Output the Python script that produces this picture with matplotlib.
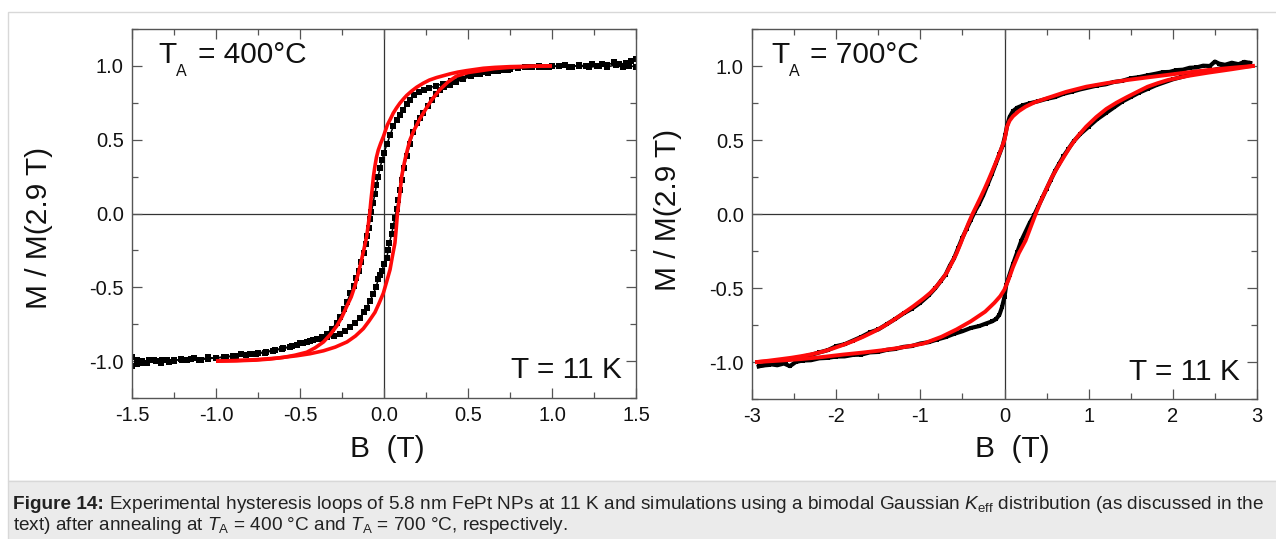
import matplotlib
matplotlib.use("Agg")
import matplotlib.pyplot as plt
from matplotlib import font_manager
from matplotlib.patches import Rectangle
from matplotlib.ticker import MultipleLocator, FormatStrFormatter

# ---------------- data ----------------
# T_A = 400 C : experimental data
exp400_down_B = [1.50, 1.47, 1.44, 1.40, 1.37, 1.33, 1.30, 1.27, 1.24, 1.20, 1.16, 1.12, 1.08, 1.04, 1.00,
                 0.96, 0.92, 0.88, 0.84, 0.80, 0.75, 0.70, 0.65, 0.60, 0.55, 0.50, 0.45, 0.40, 0.35, 0.31,
                 0.27, 0.24, 0.21, 0.18, 0.155, 0.135, 0.115, 0.095, 0.075, 0.055, 0.036, 0.018, 0.0, -0.012,
                 -0.024, -0.035, -0.045, -0.055, -0.065, -0.075, -0.083, -0.092, -0.10, -0.11, -0.122, -0.135,
                 -0.15, -0.165, -0.18, -0.20, -0.22, -0.24, -0.26, -0.28, -0.31, -0.34, -0.37, -0.40, -0.44,
                 -0.48, -0.52, -0.56, -0.61, -0.66, -0.71, -0.76, -0.82, -0.88, -0.94, -1.00, -1.05, -1.10,
                 -1.15, -1.20, -1.25, -1.28, -1.32, -1.36, -1.40, -1.44, -1.47, -1.50]
exp400_down_M = [1.045, 1.03, 1.02, 1.01, 1.025, 1.005, 1.012, 1.0, 1.015, 1.0, 1.006, 0.995, 1.005, 0.998, 1.0,
                 0.993, 1.0, 0.99, 0.994, 0.985, 0.98, 0.975, 0.968, 0.958, 0.948, 0.935, 0.918, 0.90, 0.878, 0.865,
                 0.852, 0.84, 0.825, 0.80, 0.77, 0.74, 0.70, 0.665, 0.635, 0.59, 0.53, 0.47, 0.41, 0.36,
                 0.31, 0.25, 0.19, 0.13, 0.07, 0.01, -0.04, -0.10, -0.15, -0.21, -0.27, -0.33,
                 -0.39, -0.44, -0.49, -0.54, -0.60, -0.65, -0.70, -0.74, -0.78, -0.815, -0.835, -0.85, -0.865,
                 -0.88, -0.893, -0.905, -0.918, -0.93, -0.943, -0.95, -0.958, -0.963, -0.973, -0.978, -0.985, -0.99,
                 -0.983, -0.995, -0.99, -1.005, -0.99, -1.0, -0.995, -1.012, -0.99, -0.975]
exp400_up_B = [-1.50, -1.47, -1.44, -1.41, -1.37, -1.33, -1.29, -1.25, -1.21, -1.17, -1.13, -1.09, -1.05, -1.00,
               -0.95, -0.90, -0.85, -0.80, -0.75, -0.70, -0.65, -0.60, -0.55, -0.50, -0.46, -0.42, -0.38, -0.34,
               -0.30, -0.26, -0.23, -0.20, -0.17, -0.143, -0.12, -0.103, -0.083, -0.064, -0.048, -0.034, -0.024,
               -0.014, 0.0, 0.016, 0.025, 0.032, 0.045, 0.055, 0.065, 0.075, 0.085, 0.095, 0.105, 0.12, 0.135,
               0.155, 0.175, 0.195, 0.215, 0.234, 0.26, 0.284, 0.31, 0.333, 0.36, 0.39, 0.43, 0.47, 0.52, 0.57,
               0.62, 0.68, 0.74, 0.80, 0.86, 0.92, 0.98, 1.04, 1.10, 1.16, 1.22, 1.28, 1.33, 1.38, 1.42, 1.46, 1.50]
exp400_up_M = [-1.035, -1.02, -1.0, -1.015, -0.995, -1.01, -0.99, -1.0, -0.985, -0.995, -0.98, -0.99, -0.975, -0.98,
               -0.97, -0.965, -0.955, -0.955, -0.945, -0.935, -0.925, -0.91, -0.90, -0.88, -0.87, -0.86, -0.85, -0.84,
               -0.83, -0.818, -0.795, -0.772, -0.74, -0.705, -0.67, -0.637, -0.59, -0.547, -0.50, -0.446, -0.42,
               -0.39, -0.345, -0.30, -0.25, -0.20, -0.14, -0.086, -0.03, 0.03, 0.09, 0.16, 0.23, 0.31, 0.39,
               0.47, 0.55, 0.61, 0.65, 0.68, 0.73, 0.77, 0.81, 0.84, 0.86, 0.87, 0.89, 0.91, 0.93, 0.945,
               0.955, 0.965, 0.975, 0.985, 0.99, 0.995, 0.99, 1.0, 0.995, 1.0, 0.99, 1.0, 0.995, 1.005, 0.99, 1.0, 0.995]

# T_A = 400 C : simulation
sim400_down_B = [1.0, 0.87, 0.75, 0.66, 0.591, 0.492, 0.44, 0.393, 0.313, 0.27, 0.234, 0.195, 0.165, 0.135,
                 0.115, 0.095, 0.075, 0.055, 0.038, 0.02, 0.008, -0.004, -0.02, -0.034, -0.045, -0.054, -0.063,
                 -0.07, -0.078, -0.085, -0.094, -0.103, -0.118, -0.133, -0.152, -0.173, -0.195, -0.222, -0.25,
                 -0.28, -0.32, -0.36, -0.41, -0.46, -0.53, -0.60, -0.68, -0.76, -0.88, -1.0]
sim400_down_M = [1.0, 0.998, 0.995, 0.99, 0.984, 0.968, 0.958, 0.946, 0.921, 0.904, 0.883, 0.856, 0.83, 0.80,
                 0.775, 0.748, 0.716, 0.68, 0.64, 0.60, 0.56, 0.52, 0.475, 0.43, 0.38, 0.32, 0.25,
                 0.17, 0.085, 0.0, -0.08, -0.153, -0.235, -0.31, -0.40, -0.49, -0.565, -0.63, -0.70,
                 -0.76, -0.82, -0.87, -0.91, -0.94, -0.96, -0.975, -0.986, -0.993, -0.998, -1.0]
sim400_up_B = [-1.0, -0.88, -0.76, -0.64, -0.52, -0.44, -0.36, -0.29, -0.22, -0.17, -0.123, -0.09, -0.054,
               -0.03, -0.004, 0.015, 0.036, 0.05, 0.065, 0.073, 0.08, 0.088, 0.095, 0.105, 0.115, 0.125, 0.14,
               0.155, 0.175, 0.195, 0.215, 0.234, 0.26, 0.284, 0.31, 0.333, 0.38, 0.43, 0.50, 0.59, 0.66, 0.75,
               0.87, 1.0]
sim400_up_M = [-1.0, -0.996, -0.99, -0.98, -0.964, -0.95, -0.93, -0.905, -0.87, -0.83, -0.78, -0.73, -0.67,
               -0.61, -0.54, -0.465, -0.38, -0.29, -0.20, -0.10, 0.0, 0.07, 0.14, 0.25, 0.31, 0.365, 0.435,
               0.50, 0.555, 0.60, 0.645, 0.68, 0.728, 0.77, 0.807, 0.84, 0.89, 0.93, 0.955, 0.97, 0.982, 0.99,
               0.997, 1.0]

# T_A = 700 C : experimental data
exp700_down_B = [2.92, 2.85, 2.78, 2.70, 2.62, 2.55, 2.50, 2.44, 2.36, 2.28, 2.20, 2.12, 2.04, 1.96, 1.88, 1.80,
                 1.70, 1.60, 1.50, 1.40, 1.30, 1.20, 1.10, 1.00, 0.90, 0.80, 0.70, 0.60, 0.50, 0.40, 0.30, 0.22,
                 0.15, 0.10, 0.06, 0.03, 0.01, -0.02, -0.06, -0.10, -0.15, -0.20, -0.25, -0.30, -0.35, -0.40,
                 -0.45, -0.50, -0.55, -0.60, -0.65, -0.70, -0.76, -0.82, -0.90, -1.0, -1.1, -1.2, -1.3, -1.4,
                 -1.5, -1.6, -1.7, -1.8, -1.9, -2.0, -2.1, -2.2, -2.3, -2.4, -2.5, -2.6, -2.7, -2.8, -2.9]
exp700_down_M = [1.02, 1.028, 1.012, 1.022, 1.008, 1.016, 1.03, 1.0, 1.002, 0.99, 0.988, 0.975, 0.972, 0.96, 0.958,
                 0.948, 0.937, 0.925, 0.917, 0.90, 0.892, 0.876, 0.868, 0.855, 0.842, 0.826, 0.812, 0.79, 0.778,
                 0.762, 0.748, 0.735, 0.718, 0.695, 0.655, 0.595, 0.535, 0.465, 0.405, 0.345, 0.27, 0.20, 0.13,
                 0.07, 0.02, -0.04, -0.10, -0.16, -0.23, -0.30, -0.35, -0.41, -0.455, -0.50, -0.55, -0.60, -0.64,
                 -0.672, -0.71, -0.745, -0.78, -0.80, -0.83, -0.855, -0.88, -0.893, -0.92, -0.935, -0.952, -0.965,
                 -0.975, -0.99, -1.0, -1.02, -1.025]
exp700_up_B = [-2.92, -2.85, -2.78, -2.70, -2.62, -2.55, -2.48, -2.40, -2.30, -2.20, -2.10, -2.00, -1.90, -1.80,
               -1.70, -1.60, -1.50, -1.40, -1.30, -1.20, -1.10, -1.00, -0.90, -0.80, -0.70, -0.60, -0.50, -0.40,
               -0.30, -0.22, -0.15, -0.10, -0.06, -0.03, 0.0, 0.02, 0.06, 0.10, 0.15, 0.20, 0.25, 0.30, 0.35,
               0.40, 0.45, 0.50, 0.55, 0.60, 0.65, 0.70, 0.76, 0.82, 0.90, 1.00, 1.1, 1.2, 1.3, 1.4, 1.5, 1.6,
               1.7, 1.8, 1.9, 2.0, 2.1, 2.2, 2.3, 2.4, 2.5, 2.6, 2.7, 2.8, 2.9]
exp700_up_M = [-1.03, -1.02, -1.015, -1.022, -1.01, -1.028, -1.0, -0.99, -0.988, -0.975, -0.972, -0.963, -0.962,
               -0.952, -0.95, -0.935, -0.932, -0.918, -0.912, -0.898, -0.892, -0.875, -0.866, -0.848, -0.832,
               -0.81, -0.792, -0.77, -0.757, -0.74, -0.726, -0.71, -0.68, -0.63, -0.56, -0.48, -0.41, -0.34,
               -0.26, -0.18, -0.12, -0.06, -0.01, 0.05, 0.11, 0.17, 0.23, 0.29, 0.34, 0.39, 0.44, 0.49, 0.54,
               0.59, 0.64, 0.68, 0.72, 0.76, 0.79, 0.82, 0.845, 0.87, 0.89, 0.91, 0.925, 0.94, 0.955, 0.965,
               0.975, 0.99, 1.0, 1.01, 1.02]

# T_A = 700 C : simulation
sim700_down_B = [2.95, 2.70, 2.42, 2.18, 1.94, 1.70, 1.455, 1.21, 0.97, 0.73, 0.49, 0.36, 0.25, 0.17, 0.10, 0.06,
                 0.03, 0.0, -0.045, -0.09, -0.14, -0.19, -0.235, -0.28, -0.33, -0.38, -0.43, -0.475, -0.52, -0.57,
                 -0.63, -0.69, -0.75, -0.81, -0.88, -0.96, -1.08, -1.2, -1.32, -1.44, -1.56, -1.68, -1.80, -1.92,
                 -2.04, -2.16, -2.28, -2.41, -2.53, -2.65, -2.80, -2.94]
sim700_down_M = [1.0, 0.988, 0.973, 0.957, 0.94, 0.923, 0.905, 0.884, 0.86, 0.825, 0.78, 0.755, 0.725, 0.695, 0.66,
                 0.63, 0.59, 0.50, 0.43, 0.365, 0.297, 0.23, 0.172, 0.117, 0.058, 0.0, -0.065, -0.13, -0.197,
                 -0.266, -0.335, -0.40, -0.447, -0.49, -0.532, -0.57, -0.622, -0.67, -0.717, -0.76, -0.797,
                 -0.83, -0.859, -0.885, -0.909, -0.93, -0.946, -0.96, -0.971, -0.98, -0.991, -1.0]
sim700_up_B = [-2.94, -2.65, -2.41, -2.16, -1.92, -1.68, -1.44, -1.2, -0.96, -0.75, -0.57, -0.40, -0.23, -0.12,
               -0.05, 0.0, 0.05, 0.10, 0.17, 0.25, 0.31, 0.37, 0.43, 0.49, 0.56, 0.635, 0.71, 0.78, 0.87, 0.97,
               1.09, 1.21, 1.33, 1.455, 1.58, 1.70, 1.82, 1.94, 2.18, 2.42, 2.70, 2.95]
sim700_up_M = [-1.0, -0.99, -0.98, -0.966, -0.95, -0.936, -0.92, -0.9, -0.875, -0.83, -0.78, -0.725, -0.66, -0.60,
               -0.555, -0.51, -0.44, -0.36, -0.265, -0.18, -0.09, 0.0, 0.085, 0.16, 0.245, 0.32, 0.39, 0.455,
               0.525, 0.59, 0.655, 0.71, 0.752, 0.79, 0.826, 0.86, 0.884, 0.905, 0.933, 0.955, 0.978, 1.0]

xticks400 = [-1.5, -1.0, -0.5, 0.0, 0.5, 1.0, 1.5]
xticks700 = [-3, -2, -1, 0, 1, 2, 3]
yticks = [-1.0, -0.5, 0.0, 0.5, 1.0]

# ---------------- fonts ----------------
def have(fam):
    try:
        font_manager.findfont(font_manager.FontProperties(family=fam), fallback_to_default=False)
        return True
    except Exception:
        return False

MAIN = "Liberation Sans" if have("Liberation Sans") else "DejaVu Sans"
NARROW = "Liberation Sans Narrow" if have("Liberation Sans Narrow") else MAIN

plt.rcParams["font.family"] = [MAIN, "DejaVu Sans"]
plt.rcParams["axes.unicode_minus"] = False
plt.rcParams["mathtext.fontset"] = "custom"
plt.rcParams["mathtext.rm"] = NARROW
plt.rcParams["mathtext.it"] = NARROW + ":italic"
plt.rcParams["mathtext.bf"] = NARROW + ":bold"

W, H = 1276, 539
fig = plt.figure(figsize=(W / 100, H / 100), dpi=100)
fig.patch.set_facecolor("white")

def fx(x):
    return x / W

def fy(y):
    return 1 - y / H

# page frame + caption background (drawn behind the axes)
fig.patches.append(Rectangle((fx(8), fy(481)), fx(1276 + 20) - fx(8), fy(12) - fy(481),
                             transform=fig.transFigure, facecolor="none", edgecolor="#d8d8d8",
                             lw=1.0, zorder=-10))
fig.patches.append(Rectangle((fx(8), fy(539 + 5)), fx(1276 + 20) - fx(8), fy(481) - fy(544),
                             transform=fig.transFigure, facecolor="#ebebeb", edgecolor="#d8d8d8",
                             lw=1.0, zorder=-10))

ax1 = fig.add_axes([fx(132), fy(398), (636 - 132) / W, (398 - 29) / H])
ax2 = fig.add_axes([fx(752), fy(399), (1257 - 752) / W, (399 - 29) / H])

SPINE = "#555555"
for ax in (ax1, ax2):
    ax.set_facecolor("white")
    ax.set_ylim(-1.25, 1.25)
    ax.set_yticks(yticks)
    ax.yaxis.set_minor_locator(MultipleLocator(0.25))
    ax.yaxis.set_major_formatter(FormatStrFormatter("%.1f"))
    ax.axhline(0, color="#333333", lw=0.9, zorder=1)
    ax.axvline(0, color="#333333", lw=0.9, zorder=1)
    ax.tick_params(which="both", direction="in", top=True, right=True, color=SPINE,
                   labelsize=14.5, labelcolor="#111111")
    ax.tick_params(which="major", length=7, width=0.9, pad=6)
    ax.tick_params(which="minor", length=4, width=0.9)
    for s in ax.spines.values():
        s.set_color(SPINE)
        s.set_linewidth(1.0)

ax1.set_xlim(-1.5, 1.5)
ax1.set_xticks(xticks400)
ax1.xaxis.set_minor_locator(MultipleLocator(0.25))
ax1.xaxis.set_major_formatter(FormatStrFormatter("%.1f"))

ax2.set_xlim(-3, 3)
ax2.set_xticks(xticks700)
ax2.xaxis.set_minor_locator(MultipleLocator(0.5))
ax2.xaxis.set_major_formatter(FormatStrFormatter("%d"))

RED = "#ff0a0a"
# left panel
ax1.plot(exp400_down_B, exp400_down_M, color="black", lw=1.1, marker="s", ms=3.8, mew=0, zorder=2)
ax1.plot(exp400_up_B, exp400_up_M, color="black", lw=1.1, marker="s", ms=3.8, mew=0, zorder=2)
ax1.plot(sim400_down_B, sim400_down_M, color=RED, lw=2.6, zorder=3, solid_capstyle="butt")
ax1.plot(sim400_up_B, sim400_up_M, color=RED, lw=2.6, zorder=3, solid_capstyle="butt")

# right panel
ax2.plot(exp700_down_B, exp700_down_M, color="black", lw=3.0, marker="s", ms=3.4, mew=0, zorder=2)
ax2.plot(exp700_up_B, exp700_up_M, color="black", lw=3.0, marker="s", ms=3.4, mew=0, zorder=2)
ax2.plot(sim700_down_B, sim700_down_M, color=RED, lw=2.8, zorder=3)
ax2.plot(sim700_up_B, sim700_up_M, color=RED, lw=2.8, zorder=3)

# annotations
def ftext(x, y, s, size, **kw):
    return fig.text(fx(x), fy(y), s, fontsize=size, va="baseline", color="#111111", **kw)

ftext(158, 63, "T", 21.5)
ftext(176, 76, "A", 11.5)
ftext(198, 63, "= 400°C", 21.5)
ftext(771, 63, "T", 21.5)
ftext(789, 76, "A", 11.5)
ftext(810, 63, "= 700°C", 21.5)
ftext(622, 378, "T = 11 K", 21.5, ha="right")
ftext(1240, 380, "T = 11 K", 21.5, ha="right")

ftext(387, 457, "B  (T)", 21.5, ha="center")
ftext(1012, 457, "B  (T)", 21.5, ha="center")
fig.text(fx(39), fy(228), "M / M(2.9 T)", fontsize=21.5, rotation=90, ha="center", va="center",
         color="#111111")
fig.text(fx(668), fy(210), "M / M(2.9 T)", fontsize=21.5, rotation=90, ha="center", va="center",
         color="#111111")

# caption
renderer = fig.canvas.get_renderer()
cap_bold = "Figure 14:"
cap_rest1 = (" Experimental hysteresis loops of 5.8 nm FePt NPs at 11 K and simulations using a bimodal "
             r"Gaussian $K_{\mathrm{eff}}$ distribution (as discussed in the")
cap_line2 = r"text) after annealing at $T_{\mathrm{A}}$ = 400 °C and $T_{\mathrm{A}}$ = 700 °C, respectively."

size0 = 10.0
tb = fig.text(fx(13), fy(509), cap_bold, fontsize=size0, family=NARROW, weight="bold",
              color="#222222", va="baseline")
tr = fig.text(fx(13), fy(509), cap_rest1, fontsize=size0, family=NARROW, color="#222222", va="baseline")
wb = tb.get_window_extent(renderer).width
wr = tr.get_window_extent(renderer).width
scale = (1262 - 13) / (wb + wr)
size = size0 * scale
tb.set_fontsize(size)
tr.set_fontsize(size)
wb = tb.get_window_extent(renderer).width
tr.set_position((fx(13 + wb), fy(509)))
fig.text(fx(13), fy(530), cap_line2, fontsize=size, family=NARROW, color="#222222", va="baseline")

fig.savefig("out.png", dpi=100, facecolor="white")
